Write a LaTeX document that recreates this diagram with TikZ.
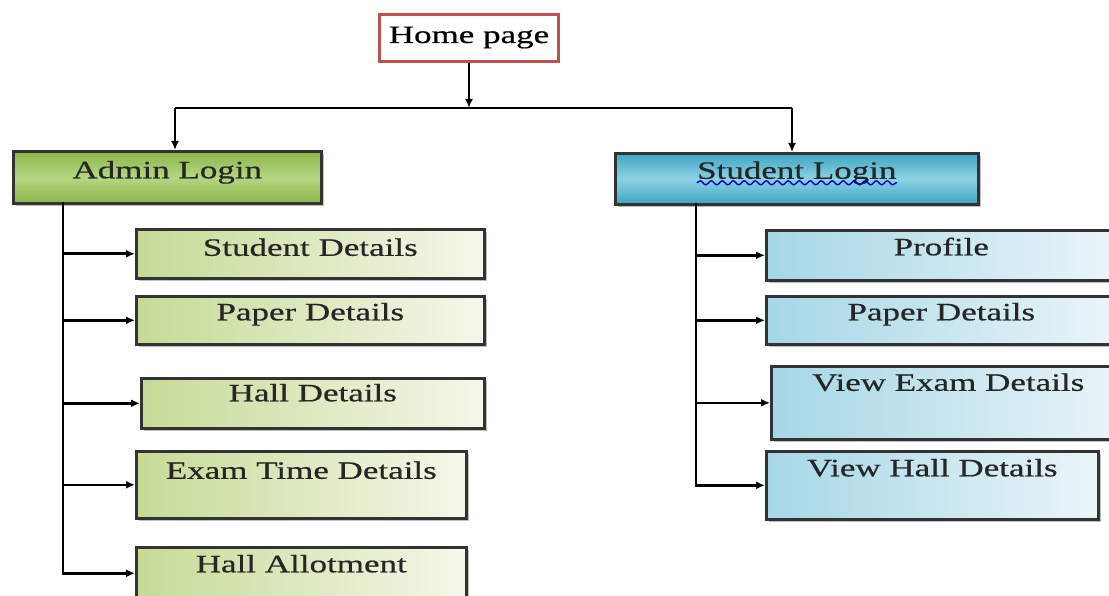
\documentclass[tikz,border=0pt]{standalone}
\usepackage{fontspec}
\setmainfont{Liberation Serif}[FakeStretch=1.4,FakeBold=0.6]
\usepackage{tikz}
\usetikzlibrary{arrows.meta,shadows,decorations.pathmorphing}
\definecolor{homered}{HTML}{C0504D}
\definecolor{admgreen}{HTML}{8BB648}
\definecolor{admlight}{HTML}{B4D682}
\definecolor{stublue}{HTML}{3DA5C2}
\definecolor{stulight}{HTML}{8CD2E4}
\definecolor{subgreen}{HTML}{C6DA96}
\definecolor{subgreenl}{HTML}{F4F8EA}
\definecolor{subblue}{HTML}{A6D7E6}
\definecolor{subbluel}{HTML}{EAF5F9}

\begin{document}
\begin{tikzpicture}[x=1pt,y=-1pt,line width=2.6pt,
    font=\fontsize{25}{30}\selectfont,
    box/.style={rectangle,anchor=north west,draw=black!80,inner sep=0pt,
        text=black!85,text height=18pt,
        drop shadow={shadow xshift=3pt,shadow yshift=-3pt,fill=black!50}},
    admbox/.style={box,top color=admgreen,bottom color=admgreen,middle color=admlight},
    stubox/.style={box,top color=stublue,bottom color=stublue,middle color=stulight},
    gbox/.style={box,left color=subgreen,right color=subgreenl},
    bbox/.style={box,left color=subblue,right color=subbluel},
    ->/.style={-{Latex[length=9pt,width=8pt]}}]
    \useasboundingbox (0,0) rectangle (1109,596);
    \clip (0,0) rectangle (1109,596);

    \node[rectangle,anchor=north west,draw=homered,line width=3pt,fill=white,
        minimum width=179pt,minimum height=47pt,text height=18pt,text depth=8pt]
        (home) at (378,13) {Home page};

    \node[admbox,minimum width=308pt,minimum height=52pt,text depth=16pt] (admin) at (12,150) {Admin Login};
    \node[stubox,minimum width=363pt,minimum height=51pt,text depth=18pt] (slogin) at (614,152) {Student Login};

    % admin side
    \node[gbox,minimum width=348pt,minimum height=49pt,text depth=14pt] (sdet) at (135,228) {Student Details};
    \node[gbox,minimum width=348pt,minimum height=48pt,text depth=18pt] (pdet) at (135,295) {Paper Details};
    \node[gbox,minimum width=343pt,minimum height=50pt,text depth=22pt] (hdet) at (140,377) {Hall Details};
    \node[gbox,minimum width=330pt,minimum height=67pt,text depth=30pt] (etime) at (135,450) {Exam Time Details};
    \node[gbox,minimum width=330pt,minimum height=52pt,text depth=20pt] (hallot) at (135,546) {Hall Allotment};

    % student side
    \node[bbox,minimum width=350pt,minimum height=50pt,text depth=18pt] (prof) at (765,229) {Profile};
    \node[bbox,minimum width=350pt,minimum height=48pt,text depth=18pt] (spdet) at (765,295) {Paper Details};
    \node[bbox,minimum width=354pt,minimum height=73pt,text depth=42pt] (vexam) at (770,365) {View Exam Details};
    \node[bbox,minimum width=332pt,minimum height=68pt,text depth=36pt] (vhall) at (765,450) {View Hall Details};

    % wavy underline
    \draw[blue!80!black,line width=1.4pt,decorate,
        decoration={snake,segment length=11pt,amplitude=2pt}]
        ([xshift=-100pt,yshift=-4pt]slogin.base) -- ([xshift=100pt,yshift=-4pt]slogin.base);

    \coordinate (aTop) at (175,108);
    \coordinate (sTop) at (792,108);
    \coordinate (ltrunk) at (63,202);
    \coordinate (rtrunk) at (696,203);

    \draw[->] (home.south) -- (home.south |- aTop);
    \draw (aTop) -- (sTop);
    \draw[->] (aTop) -- (aTop |- admin.north);
    \draw[->] (sTop) -- (sTop |- slogin.north);

    \draw[->] (ltrunk) |- (hallot);
    \foreach \b in {sdet,pdet,hdet,etime}
        \draw[->] (ltrunk |- \b.west) -- (\b.west);
    \draw[->] (rtrunk) |- (vhall);
    \foreach \b in {prof,spdet,vexam}
        \draw[->] (rtrunk |- \b.west) -- (\b.west);
\end{tikzpicture}
\end{document}
